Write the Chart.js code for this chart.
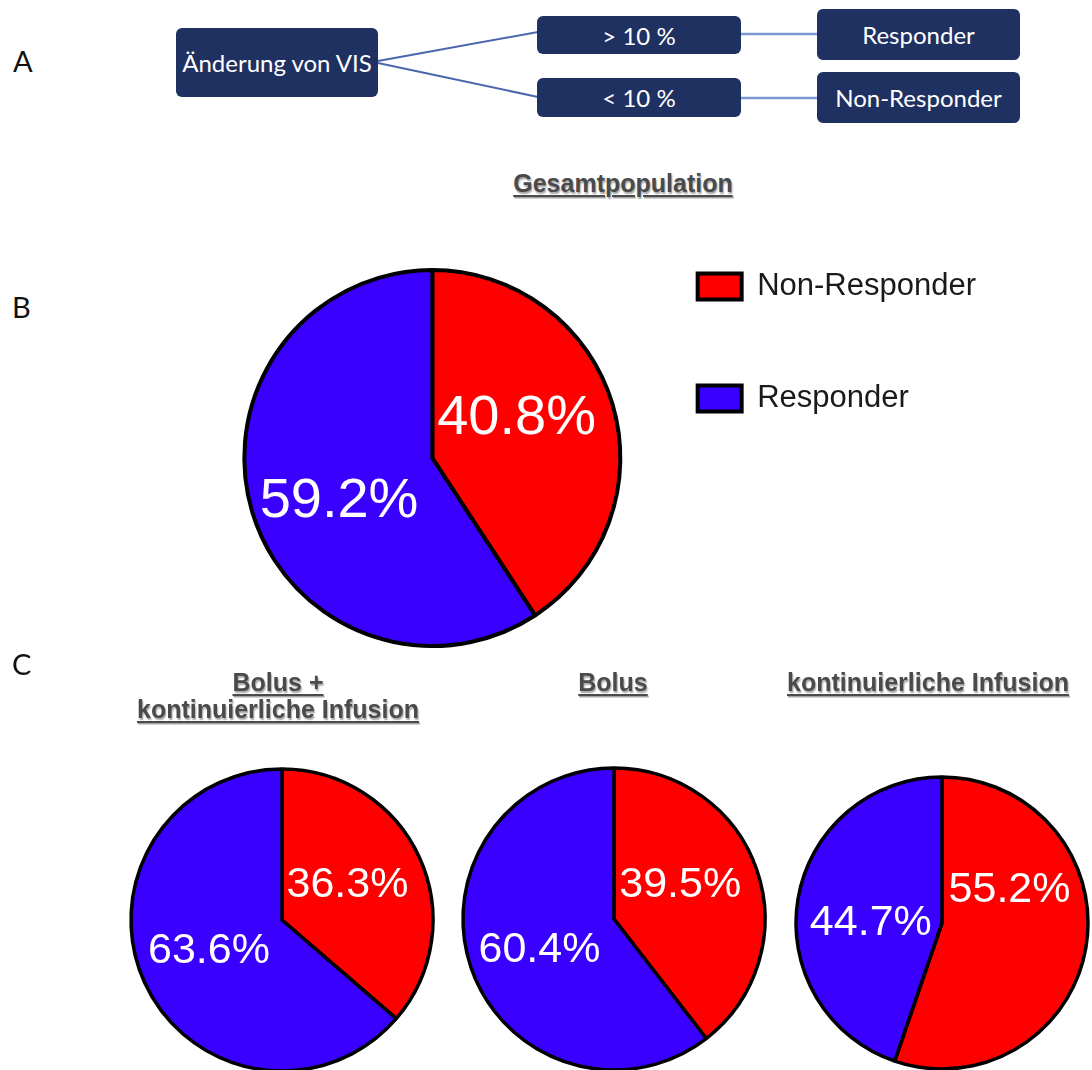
<!DOCTYPE html>
<html lang="de">
<head>
<meta charset="utf-8">
<title>Änderung von VIS – Responder / Non-Responder</title>
<script src="https://cdn.jsdelivr.net/npm/chart.js@4.4.1/dist/chart.umd.min.js"></script>
<style>
  html, body { margin: 0; padding: 0; background: #ffffff; }
  body { width: 1092px; height: 1070px; position: relative; overflow: hidden;
         font-family: "Liberation Sans", Arial, Helvetica, sans-serif; }
  canvas { position: absolute; }
  .letter { position: absolute; font-family: Lato, "Open Sans", sans-serif; font-size: 29px;
            line-height: 29px; color: #111; }
  .node { position: absolute; background: #1f3161; color: #ffffff; border-radius: 6px;
          display: flex; align-items: center; justify-content: center;
          font-family: Lato, "Open Sans", sans-serif; font-size: 24px; }
  .title { position: absolute; font-weight: bold; font-size: 25px; line-height: 27px;
           color: #4a4a4a; text-align: center; text-decoration: underline;
           text-decoration-thickness: 2px; text-underline-offset: 3px;
           text-shadow: 1px 1.5px 1.5px rgba(0,0,0,0.35); white-space: nowrap; }
</style>
</head>
<body>

<!-- A: decision tree -->
<div class="letter" style="left:13px; top:46px;">A</div>
<svg style="position:absolute; left:0; top:0;" width="1092" height="140">
  <line x1="378" y1="61" x2="538" y2="32" stroke="#4a67ad" stroke-width="2"/>
  <line x1="378" y1="63" x2="538" y2="97" stroke="#4a67ad" stroke-width="2"/>
  <line x1="741" y1="34" x2="817" y2="34" stroke="#7d97d3" stroke-width="2.5"/>
  <line x1="741" y1="98" x2="817" y2="98" stroke="#7d97d3" stroke-width="2.5"/>
</svg>
<div class="node" style="left:176px; top:28px; width:202px; height:69px;">Änderung von VIS</div>
<div class="node" style="left:537px; top:16px; width:204px; height:38px;">&gt; 10 %</div>
<div class="node" style="left:537px; top:78px; width:204px; height:39px;">&lt; 10 %</div>
<div class="node" style="left:817px; top:9px; width:203px; height:51px;">Responder</div>
<div class="node" style="left:817px; top:72px; width:203px; height:51px;">Non-Responder</div>

<!-- B: overall population -->
<div class="title" style="left:473px; top:170px; width:300px;">Gesamtpopulation</div>
<div class="letter" style="left:12px; top:292px;">B</div>
<canvas id="pieGesamt" width="1092" height="560" style="left:0; top:180px;"></canvas>

<!-- C: by administration mode -->
<div class="letter" style="left:12px; top:649px;">C</div>
<div class="title" style="left:128px; top:669px; width:300px;">Bolus +<br>kontinuierliche Infusion</div>
<div class="title" style="left:463px; top:669px; width:300px;">Bolus</div>
<div class="title" style="left:778px; top:669px; width:300px;">kontinuierliche Infusion</div>
<canvas id="pieBolusKont" width="330" height="330" style="left:117px; top:755px;"></canvas>
<canvas id="pieBolus" width="330" height="330" style="left:449px; top:754px;"></canvas>
<canvas id="pieKont" width="330" height="330" style="left:777px; top:758px;"></canvas>

<script>
// Categories and shares (%) per group
const categories = ['Non-Responder', 'Responder'];
const gesamtpopulation = [40.8, 59.2];
const bolusKontinuierlich = [36.3, 63.6];
const bolusAllein = [39.5, 60.4];
const kontinuierlicheInfusion = [55.2, 44.7];

const sliceColors = ['#ff0000', '#3a00ff'];
const labelFont = '"Liberation Sans", Arial, Helvetica, sans-serif';

// Percentage text inside each slice; offsets are fractions of the pie radius
const sliceLabels = {
  id: 'sliceLabels',
  afterDatasetsDraw(chart, args, opts) {
    const meta = chart.getDatasetMeta(0);
    const values = chart.data.datasets[0].data;
    const ctx = chart.ctx;
    ctx.save();
    ctx.fillStyle = '#ffffff';
    ctx.font = opts.size + 'px ' + labelFont;
    ctx.textBaseline = 'alphabetic';
    meta.data.forEach((arc, i) => {
      const p = opts.place[i];
      const r = arc.outerRadius;
      ctx.textAlign = p.align;
      const tx = arc.x + p.dx * r;
      const ty = arc.y + p.dy * r + 0.358 * opts.size;
      ctx.fillText(values[i].toFixed(1) + '%', tx, ty);
    });
    ctx.restore();
  }
};

function makePie(canvasId, values, cfg) {
  return new Chart(document.getElementById(canvasId), {
    type: 'pie',
    data: {
      labels: categories,
      datasets: [{
        data: values,
        backgroundColor: sliceColors,
        borderColor: '#000000',
        borderWidth: cfg.border,
        radius: cfg.radius,
        clip: false
      }]
    },
    options: {
      responsive: false,
      animation: false,
      events: [],
      layout: { padding: cfg.padding || 0 },
      plugins: {
        legend: cfg.legend || { display: false },
        tooltip: { enabled: false },
        sliceLabels: { size: cfg.labelSize, place: cfg.place }
      }
    },
    plugins: [sliceLabels]
  });
}

makePie('pieGesamt', gesamtpopulation, {
  border: 4,
  radius: 188,
  labelSize: 56,
  padding: { left: 248, right: 106, top: 10, bottom: 14 },
  place: [
    { align: 'left', dx: 0.026, dy: -0.232 },
    { align: 'right', dx: -0.074, dy: 0.205 }
  ],
  legend: {
    display: true,
    position: 'right',
    align: 'start',
    maxWidth: 600,
    labels: {
      boxWidth: 44,
      boxHeight: 26,
      padding: 81,
      color: '#1a1a1a',
      font: { family: labelFont, size: 31 }
    }
  }
});

makePie('pieBolusKont', bolusKontinuierlich, {
  border: 3.5,
  radius: 151,
  labelSize: 43,
  place: [
    { align: 'left', dx: 0.03, dy: -0.255 },
    { align: 'right', dx: -0.08, dy: 0.183 }
  ]
});

makePie('pieBolus', bolusAllein, {
  border: 3.5,
  radius: 151,
  labelSize: 43,
  place: [
    { align: 'left', dx: 0.035, dy: -0.25 },
    { align: 'right', dx: -0.09, dy: 0.183 }
  ]
});

makePie('pieKont', kontinuierlicheInfusion, {
  border: 3.5,
  radius: 146,
  labelSize: 43,
  place: [
    { align: 'left', dx: 0.045, dy: -0.25 },
    { align: 'right', dx: -0.07, dy: -0.02 }
  ]
});
</script>
</body>
</html>
